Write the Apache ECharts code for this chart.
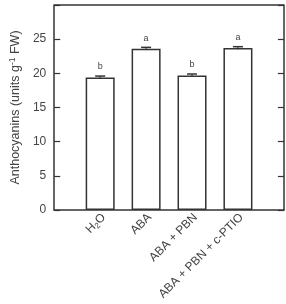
<!DOCTYPE html>
<html>
<head>
<meta charset="utf-8">
<script src="https://cdn.jsdelivr.net/npm/echarts@6/dist/echarts.min.js"></script>
<style>
html,body{margin:0;padding:0;background:#fff;}
#main{width:286px;height:304px;}
</style>
</head>
<body>
<div id="main"></div>
<script>
var categories = ['', 'H2O', 'ABA', 'ABA + PBN', 'ABA + PBN + c-PTIO', ''];
var values = ['-', 19.4, 23.6, 19.7, 23.7, '-'];
var errors = [0, 0.2, 0.2, 0.2, 0.2, 0];
var letters = ['', 'b', 'a', 'b', 'a', ''];
var yTicks = [0, 5, 10, 15, 20, 25];

var axisColor = '#333';
var textColor = '#444';

var errData = [];
for (var i = 1; i < 5; i++) {
    errData.push([i, values[i], errors[i]]);
}

var chart = echarts.init(document.getElementById('main'));
var option = {
    animation: false,
    grid: {left: 47, right: 1, top: 5, bottom: 94},
    xAxis: {
        type: 'category',
        data: categories,
        boundaryGap: false,
        axisLine: {lineStyle: {color: axisColor, width: 1.5}},
        axisTick: {show: false},
        axisLabel: {
            interval: 0,
            rotate: 45,
            margin: 9,
            fontSize: 12,
            fontFamily: 'Liberation Sans',
            color: textColor,
            padding: [0, -5, 0, 0],
            formatter: function (v) {
                if (v === 'H2O') return 'H{sub|2}O';
                return v;
            },
            rich: {
                sub: {fontSize: 8, verticalAlign: 'bottom', padding: [6, 0, 0, 0], fontFamily: 'Liberation Sans', color: textColor}
            }
        }
    },
    yAxis: [{
        type: 'value',
        min: 0,
        max: 30,
        interval: 5,
        name: 'Anthocyanins (units g{sup|-1} FW)',
        nameLocation: 'middle',
        nameGap: 29,
        nameTextStyle: {
            fontSize: 12.5,
            fontFamily: 'Liberation Sans',
            color: textColor,
            rich: {
                sup: {fontSize: 8.5, verticalAlign: 'top', padding: [0, 0, 6, 0], fontFamily: 'Liberation Sans', color: textColor}
            }
        },
        axisLine: {show: true, lineStyle: {color: axisColor, width: 1.5}},
        axisTick: {show: true, inside: true, length: 6, lineStyle: {color: axisColor, width: 1.2}},
        axisLabel: {
            fontSize: 12,
            fontFamily: 'Liberation Sans',
            color: textColor,
            margin: 8,
            formatter: function (v) { return yTicks.indexOf(v) >= 0 ? String(v) : ''; }
        },
        splitLine: {show: false}
    }, {
        type: 'value',
        min: 0,
        max: 30,
        interval: 5,
        position: 'right',
        axisLine: {show: true, lineStyle: {color: axisColor, width: 1.5}},
        axisTick: {show: true, inside: true, length: 6, lineStyle: {color: axisColor, width: 1.2}},
        axisLabel: {show: false},
        splitLine: {show: false}
    }],
    series: [{
        type: 'bar',
        data: values,
        barWidth: 29,
        itemStyle: {color: '#fff', borderColor: axisColor, borderWidth: 1.5},
        label: {
            show: true,
            position: 'top',
            distance: 6,
            fontSize: 9,
            fontFamily: 'Liberation Sans',
            color: textColor,
            formatter: function (p) { return letters[p.dataIndex]; }
        },
        z: 2
    }, {
        type: 'custom',
        data: errData,
        renderItem: function (params, api) {
            var x = api.value(0), y = api.value(1), e = api.value(2);
            var hi = api.coord([x, y + e]);
            var lo = api.coord([x, y - e]);
            var w = 5;
            return {
                type: 'group',
                children: [
                    {type: 'line', shape: {x1: hi[0], y1: hi[1], x2: lo[0], y2: lo[1]}, style: {stroke: axisColor, lineWidth: 1}},
                    {type: 'line', shape: {x1: hi[0] - w, y1: hi[1], x2: hi[0] + w, y2: hi[1]}, style: {stroke: axisColor, lineWidth: 1.5}}
                ]
            };
        },
        z: 3
    }, {
        // top border of plot frame
        type: 'line',
        data: [],
        markLine: {
            silent: true,
            symbol: 'none',
            label: {show: false},
            lineStyle: {color: axisColor, width: 1.5, type: 'solid'},
            data: [{yAxis: 30}]
        }
    }]
};
chart.setOption(option);
</script>
</body>
</html>
